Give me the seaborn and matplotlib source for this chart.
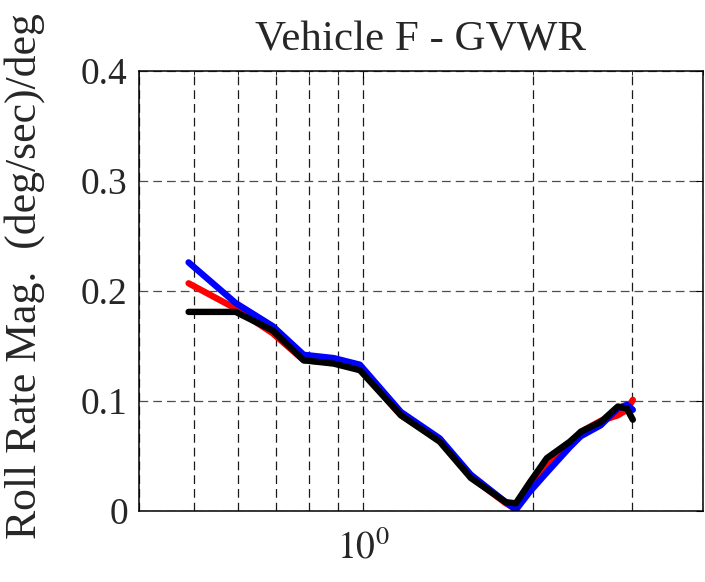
import matplotlib
matplotlib.use("Agg")
import matplotlib.pyplot as plt
import seaborn as sns
from matplotlib.ticker import FixedLocator, NullFormatter

# Frequency (Hz) and roll-rate gain readings for the three runs
freq = [0.49, 0.594, 0.691, 0.784, 0.886, 0.986, 1.166, 1.366, 1.551, 1.789,
        1.864, 1.973, 2.115, 2.323, 2.43, 2.637, 2.827, 2.933, 3.005]
red = [0.207, 0.184, 0.1615, 0.137, 0.135, 0.129, 0.087, 0.064, 0.031, 0.007,
       0.002, 0.020, 0.040, 0.060, 0.072, 0.082, 0.087, 0.092, 0.101]
blue = [0.226, 0.189, 0.168, 0.142, 0.139, 0.133, 0.090, 0.066, 0.033, 0.008,
        0.001, 0.0175, 0.035, 0.058, 0.068, 0.078, 0.0935, 0.0965, 0.092]
black = [0.181, 0.181, 0.164, 0.137, 0.134, 0.128, 0.087, 0.063, 0.030, 0.008,
         0.007, 0.026, 0.048, 0.063, 0.072, 0.081, 0.095, 0.093, 0.083]

minor_x = [0.4, 0.5, 0.6, 0.7, 0.8, 0.9, 2, 3, 4]
y_ticks = [0, 0.1, 0.2, 0.3, 0.4]
y_labels = ["0", "0.1", "0.2", "0.3", "0.4"]

sns.set_style("white")
plt.rcParams["font.family"] = ["Liberation Serif", "DejaVu Serif"]
plt.rcParams["mathtext.fontset"] = "stix"

fig = plt.figure(figsize=(7.05, 5.82), dpi=100)
ax = fig.add_axes([0.197, 0.122, 0.800, 0.756])

for vals, col in [(red, "#ff0000"), (blue, "#0000ff"), (black, "#000000")]:
    sns.lineplot(x=freq, y=vals, color=col, lw=4.6, sort=False, ax=ax,
                 solid_capstyle="round", solid_joinstyle="round")

ax.set_xscale("log")
ax.set_xlim(0.4, 4)
ax.set_ylim(0, 0.4)
ax.xaxis.set_major_locator(FixedLocator([1]))
ax.set_xticklabels(["$10^0$"])
ax.xaxis.set_minor_locator(FixedLocator(minor_x))
ax.xaxis.set_minor_formatter(NullFormatter())
ax.set_yticks(y_ticks)
ax.set_yticklabels(y_labels)

ax.grid(True, which="both", axis="x", color="0.1", lw=0.9, ls=(0, (7, 4)))
ax.grid(True, which="major", axis="y", color="0.3", lw=0.9, ls=(0, (7, 4)))

ax.tick_params(axis="both", which="both", direction="in", top=True, right=True,
               color="black")
ax.tick_params(axis="both", which="major", length=5, labelsize=27)
ax.tick_params(axis="x", which="major", pad=14)
ax.tick_params(axis="y", which="major", pad=8)
ax.tick_params(axis="x", which="minor", length=3)

for s in ax.spines.values():
    s.set_color("black")
    s.set_linewidth(1.1)

ax.set_title("Vehicle F - GVWR", fontsize=31, pad=15)
ax.set_ylabel("Roll Rate Mag.  (deg/sec)/deg", fontsize=31.5)
ax.yaxis.set_label_coords(-0.166, 0.535)

fig.savefig("out.png", dpi=100)
